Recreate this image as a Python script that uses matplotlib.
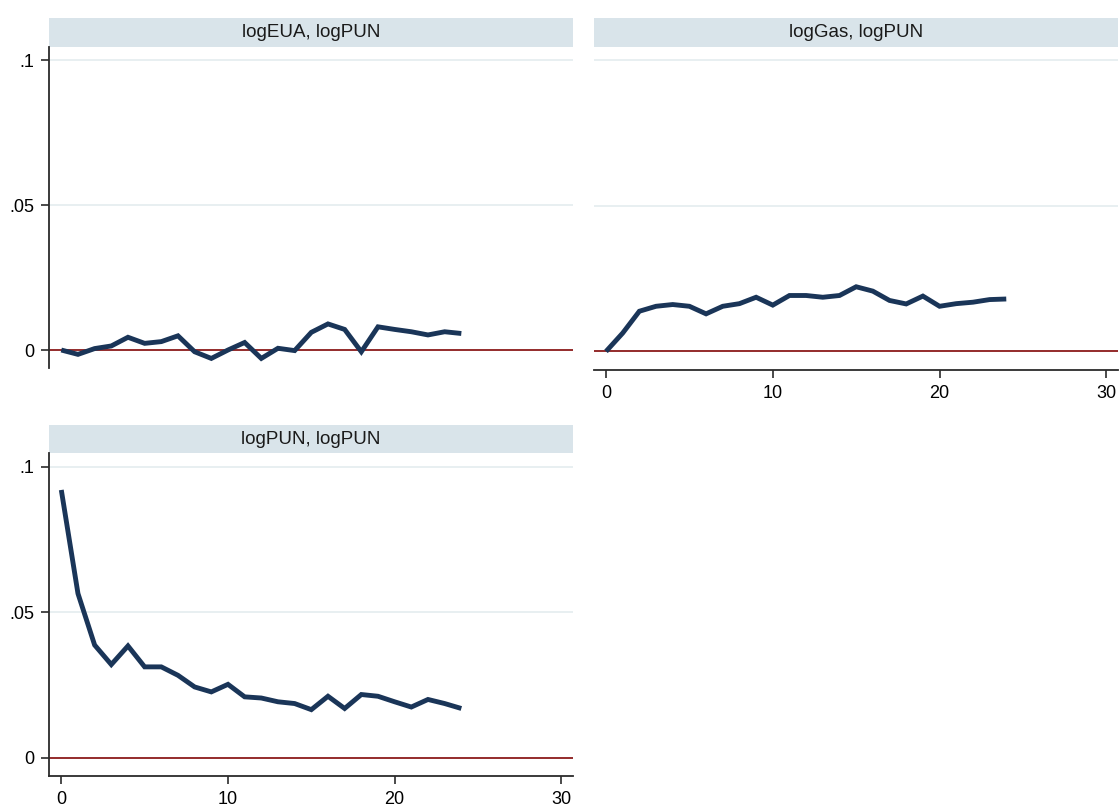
import numpy as np
import matplotlib.pyplot as plt
from matplotlib.patches import Rectangle

plt.rcParams['font.family'] = ['Liberation Sans', 'DejaVu Sans']

# Impulse-response steps
steps = list(range(25))

# Responses of logPUN to each impulse
irf_eua_pun = [0.0000, -0.0015, 0.0005, 0.0014, 0.0044, 0.0023, 0.0029, 0.0049,
               -0.0006, -0.0029, 0.0000, 0.0026, -0.0029, 0.0006, -0.0002, 0.0061,
               0.0090, 0.0071, -0.0006, 0.0080, 0.0071, 0.0063, 0.0052, 0.0063, 0.0057]
irf_gas_pun = [0.0000, 0.0063, 0.0138, 0.0155, 0.0161, 0.0155, 0.0129, 0.0155,
               0.0164, 0.0186, 0.0159, 0.0192, 0.0192, 0.0186, 0.0192, 0.0222,
               0.0207, 0.0175, 0.0163, 0.0190, 0.0155, 0.0164, 0.0169, 0.0178, 0.0180]
irf_pun_pun = [0.0920, 0.0564, 0.0387, 0.0320, 0.0384, 0.0312, 0.0312, 0.0283,
               0.0243, 0.0226, 0.0252, 0.0209, 0.0205, 0.0192, 0.0186, 0.0165,
               0.0211, 0.0169, 0.0217, 0.0211, 0.0192, 0.0174, 0.0200, 0.0186, 0.0169]

panel_titles = ["logEUA, logPUN", "logGas, logPUN", "logPUN, logPUN"]
y_ticks = [0, 0.05, 0.1]
y_tick_labels = ["0", ".05", ".1"]
x_ticks = [0, 10, 20, 30]
x_tick_labels = ["0", "10", "20", "30"]

W, H = 1119, 808
fig = plt.figure(figsize=(W / 100, H / 100), dpi=100)
fig.patch.set_facecolor('white')

LINE_COLOR = '#1a3558'
ZERO_COLOR = '#8b1a1a'
GRID_COLOR = '#e6eef0'
STRIP_COLOR = '#d9e4ea'
AXIS_COLOR = '#2b2b2b'
XLIM = (-0.72, 30.7)
YLIM = (-0.0062, 0.1046)
STRIP_PX = 28.5


def make_axes(left, right, top, bottom):
    return fig.add_axes([left / W, 1 - bottom / H, (right - left) / W, (bottom - top) / H])


def draw_panel(ax, values, title, show_y, show_x):
    ax.set_xlim(*XLIM)
    ax.set_ylim(*YLIM)
    for s in ax.spines.values():
        s.set_visible(False)
    for g in [0.05, 0.1]:
        ax.axhline(g, color=GRID_COLOR, lw=1.3, zorder=1)
    ax.axhline(0, color=ZERO_COLOR, lw=1.3, zorder=2)
    ax.plot(steps, values, color=LINE_COLOR, lw=3.5, solid_joinstyle='miter',
            solid_capstyle='butt', zorder=3)

    if show_y:
        ax.spines['left'].set_visible(True)
        ax.spines['left'].set_color(AXIS_COLOR)
        ax.spines['left'].set_linewidth(1.3)
        ax.set_yticks(y_ticks)
        ax.set_yticklabels(y_tick_labels)
        ax.tick_params(axis='y', length=6, width=1.2, color=AXIS_COLOR,
                       labelsize=13, pad=5)
    else:
        ax.set_yticks([])
    if show_x:
        ax.spines['bottom'].set_visible(True)
        ax.spines['bottom'].set_color(AXIS_COLOR)
        ax.spines['bottom'].set_linewidth(1.3)
        ax.set_xticks(x_ticks)
        ax.set_xticklabels(x_tick_labels)
        ax.tick_params(axis='x', length=6, width=1.2, color=AXIS_COLOR,
                       labelsize=13, pad=5)
    else:
        ax.set_xticks([])

    # Title strip above the plot region
    h_ax = ax.get_position().height * H
    frac = STRIP_PX / h_ax
    ax.add_patch(Rectangle((0, 1), 1, frac, transform=ax.transAxes,
                           facecolor=STRIP_COLOR, edgecolor='none', clip_on=False))
    ax.text(0.5, 1 + frac / 2, title, transform=ax.transAxes, ha='center',
            va='center', fontsize=13.5, color='#1a1a1a')


ax1 = make_axes(49.3, 573, 46.7, 368)
draw_panel(ax1, irf_eua_pun, panel_titles[0], show_y=True, show_x=False)

ax2 = make_axes(594, 1118, 46.7, 369.5)
draw_panel(ax2, irf_gas_pun, panel_titles[1], show_y=False, show_x=True)

ax3 = make_axes(49.3, 573, 453.3, 775.7)
draw_panel(ax3, irf_pun_pun, panel_titles[2], show_y=True, show_x=True)

fig.savefig('out.png', dpi=100, facecolor='white')
